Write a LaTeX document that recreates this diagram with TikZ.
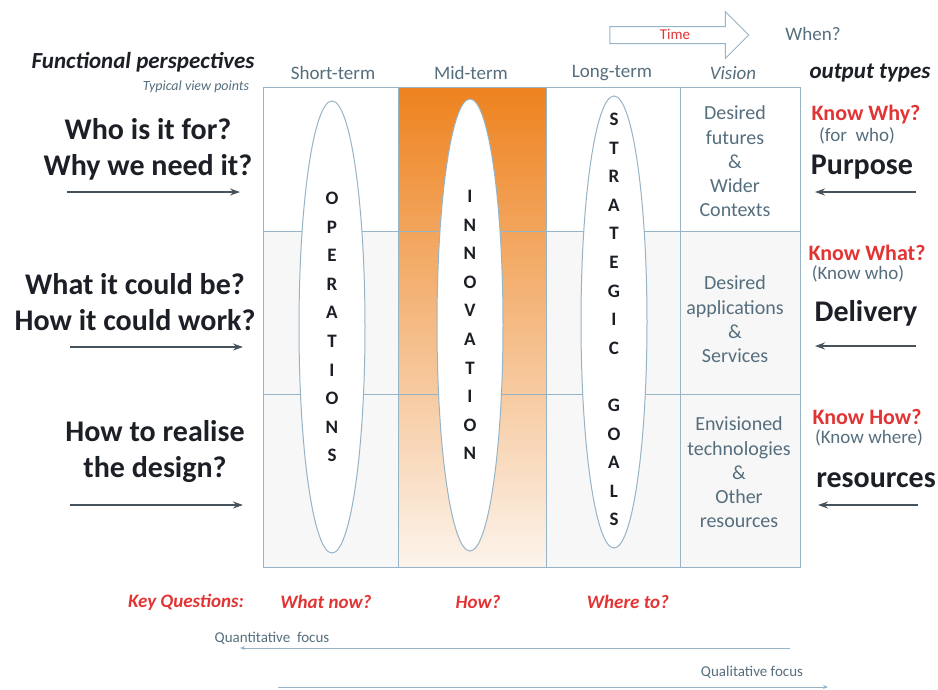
\documentclass[tikz,border=0pt]{standalone}
\usepackage{fontspec}
\setmainfont{Carlito}
\usetikzlibrary{shapes.geometric, shapes.arrows, arrows.meta}

\definecolor{gridcol}{RGB}{150,180,198}
\definecolor{headcol}{RGB}{85,110,125}
\definecolor{redtxt}{RGB}{226,52,52}
\definecolor{darktxt}{RGB}{28,32,38}
\definecolor{arrcol}{RGB}{70,82,92}
\definecolor{orangetop}{RGB}{238,130,30}
\definecolor{orangebot}{RGB}{252,244,236}
\definecolor{cellgrey}{RGB}{247,247,247}

\tikzset{
  gridline/.style={draw=gridcol, line width=1pt},
  pill/.style={ellipse, draw=gridcol, fill=white, line width=1pt,
               minimum width=66, minimum height=452, inner sep=0pt},
  letters/.style={align=center, text=darktxt,
                  font=\fontsize{19}{28.6}\selectfont\bfseries},
  head/.style={text=headcol, font=\fontsize{19}{22}\selectfont},
  vis/.style={align=center, text=headcol, font=\fontsize{20}{24.3}\selectfont},
  ask/.style={align=center, text=darktxt, font=\fontsize{30}{36}\selectfont\bfseries},
  know/.style={text=redtxt, inner sep=0.5pt, font=\fontsize{22}{24}\selectfont\bfseries},
  sub/.style={text=headcol, inner sep=0.5pt, font=\fontsize{19}{21}\selectfont},
  otype/.style={text=darktxt, font=\fontsize{30}{33}\selectfont\bfseries},
  keyq/.style={text=redtxt, font=\fontsize{19}{22}\selectfont\bfseries\itshape},
  small/.style={text=headcol, font=\fontsize{15}{17}\selectfont},
  flow/.style={->, draw=arrcol, line width=2pt},
  focus/.style={draw=gridcol, line width=1pt, -{Stealth[length=5pt,width=4pt]}}
}

\begin{document}
\begin{tikzpicture}[x=1pt, y=-1pt, >={Stealth[length=10pt,width=7pt]}]
\useasboundingbox (0,0) rectangle (938,689);

% cell backgrounds
\fill[cellgrey] (263,231) rectangle (800,567);
\shade[top color=orangetop, bottom color=orangebot] (398,87) rectangle (546,567);

% the grid
\draw[gridline] (263,87) rectangle (800,567);
\draw[gridline] (263,231) -- (800,231);
\draw[gridline] (263,394) -- (800,394);
\foreach \xc in {398,546,680}
  \draw[gridline] (\xc,87) -- (\xc,567);

% the three pills
\node[pill] (ops) at (332,327) {};
\node[pill] (inno) at (470,325) {};
\node[pill] (strat) at (614,322) {};
\node[letters] (opstxt) at (ops) {O\\P\\E\\R\\A\\T\\I\\O\\N\\S};
\node[letters] (innotxt) at (inno) {I\\N\\N\\O\\V\\A\\T\\I\\O\\N};
\node[letters] (strattxt) at (614,319.5) {S\\T\\R\\A\\T\\E\\G\\I\\C\\~\\G\\O\\A\\L\\S};

% column heads
\node[head] (short) at (333,73) {Short-term};
\node[head] (mid) at (471,73) {Mid-term};
\node[head] (long) at (612,73) {Long-term};
\node[head, font=\fontsize{19}{22}\selectfont\itshape] (vision) at (733,73) {Vision};
\node[text=darktxt, font=\fontsize{23}{26}\selectfont\bfseries\itshape] (funct) at (143,62) {Functional perspectives};
\node[text=headcol, font=\fontsize{14}{16}\selectfont\itshape] (typical) at (196,87) {Typical view points};
\node[text=darktxt, font=\fontsize{23}{26}\selectfont\bfseries\itshape] (otypes) at (870,73) {output types};

% time arrow
\node[single arrow, draw=gridcol, line width=1pt, fill=white, minimum height=139,
      minimum width=46, single arrow head extend=15, inner sep=4pt,
      text height=8pt, text depth=0pt,
      text=redtxt, font=\fontsize{15}{17}\selectfont] (time) at (675,35) {Time};
\node[head] (when) at (813,34) {When?};

% vision column
\node[vis] (fut) at (735,161.5) {Desired\\futures\\\&\\Wider\\Contexts};
\node[vis] (app) at (735,319.5) {Desired\\applications\\\&\\Services};
\node[vis] (env) at (739,472.5) {Envisioned\\technologies\\\&\\Other\\resources};

% left side questions
\node[ask] (who) at (148,149) {Who is it for?\\Why we need it?};
\node[ask] (what) at (135,302) {What it could be?\\How it could work?};
\node[ask] (realise) at (155,452) {How to realise\\the design?};
\coordinate (wa) at (67,192);  \coordinate (wb) at (240,192);
\coordinate (xa) at (70,347);  \coordinate (xb) at (243,347);
\coordinate (ya) at (70,505);  \coordinate (yb) at (243,505);
\draw[flow] (wa) -- (wb);
\draw[flow] (xa) -- (xb);
\draw[flow] (ya) -- (yb);

% right side output types
\node[know] (why) at (866,115) {Know Why?};
\node[sub] (forwho) at (857,136) {(for\ \ who)};
\node[otype] (purpose) at (862,167) {Purpose};
\node[know] (knwhat) at (867,253) {Know What?};
\node[sub] (knwho) at (858,274) {(Know who)};
\node[otype] (deliv) at (866,313) {Delivery};
\node[know] (knhow) at (867,417) {Know How?};
\node[sub] (knwhere) at (869,438) {(Know where)};
\node[otype] (res) at (876,480) {resources};
\coordinate (pa) at (916,192); \coordinate (pb) at (815,192);
\coordinate (da) at (916,346); \coordinate (db) at (815,346);
\coordinate (ra) at (918,505); \coordinate (rb) at (818,505);
\draw[flow] (pa) -- (pb);
\draw[flow] (da) -- (db);
\draw[flow] (ra) -- (rb);

% key questions
\node[keyq] (keyq1) at (186,602) {Key Questions:};
\node[keyq] (now) at (326,602) {What now?};
\node[keyq] (how) at (478,602) {How?};
\node[keyq] (where) at (628,602) {Where to?};

% focus lines
\node[small] (quant) at (272,638) {Quantitative\ \ focus};
\node[small] (qual) at (752,672) {Qualitative focus};
\coordinate (qa) at (790,648); \coordinate (qb) at (240,648);
\coordinate (la) at (278,687); \coordinate (lb) at (828,687);
\draw[focus] (qa) -- (qb);
\draw[focus] (la) -- (lb);
\end{tikzpicture}
\end{document}
